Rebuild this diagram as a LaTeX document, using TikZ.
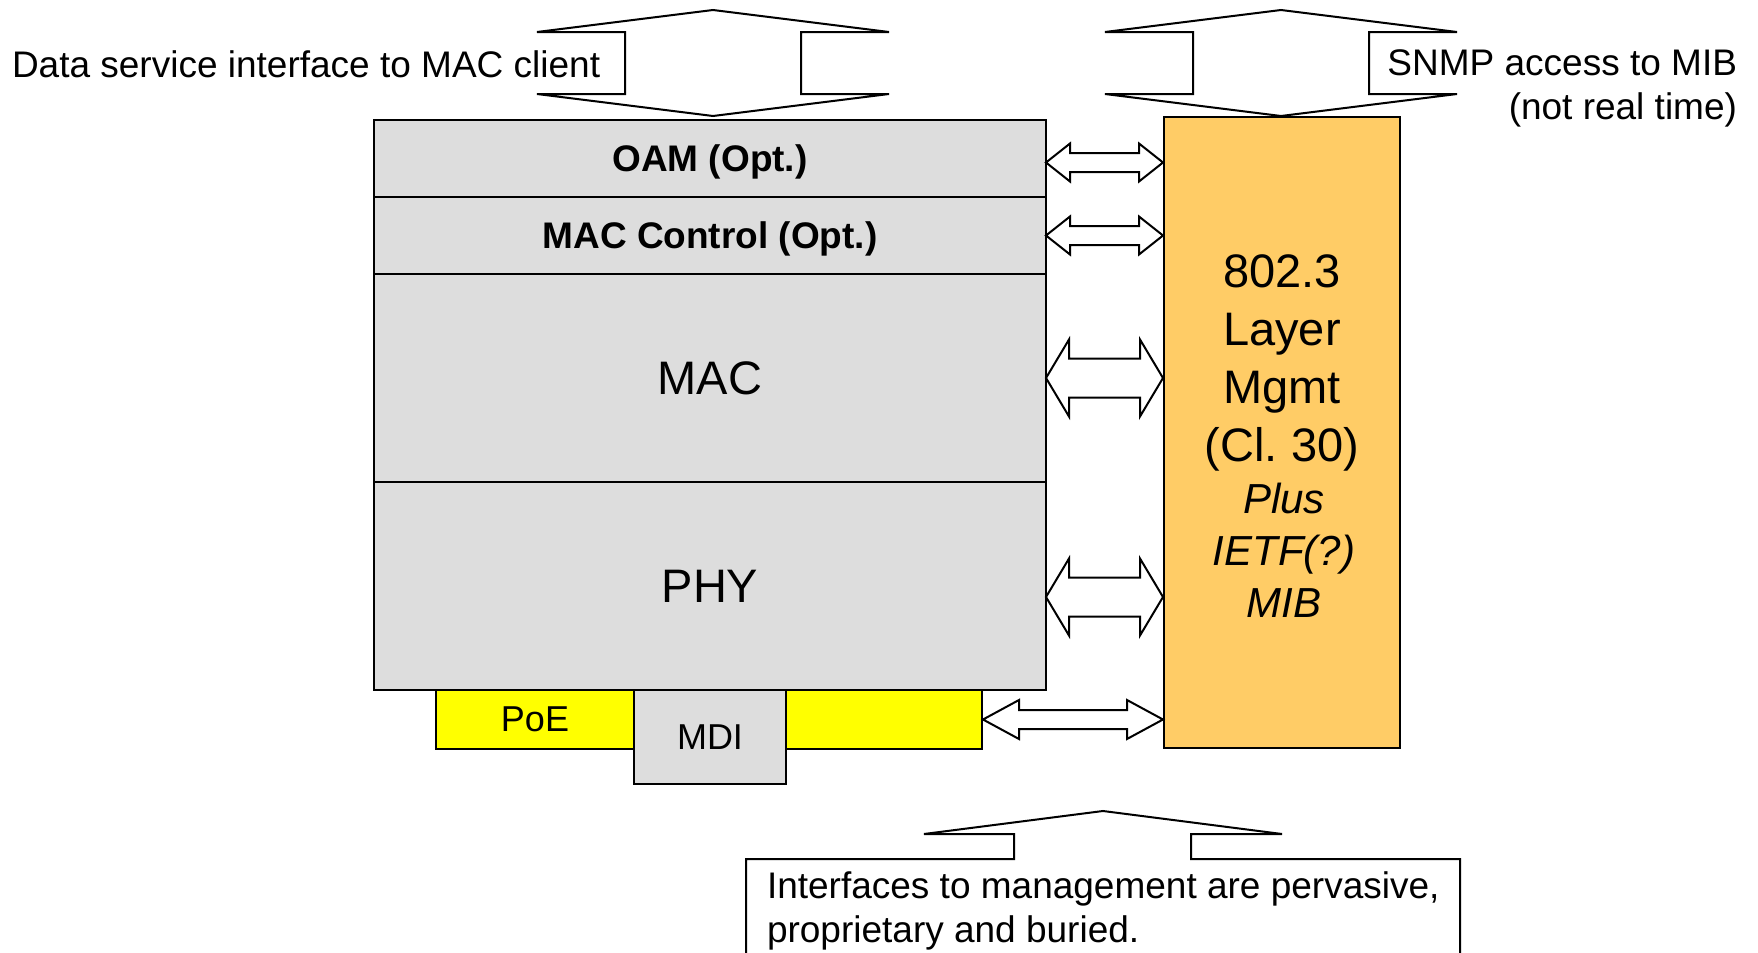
\documentclass[tikz,border=0pt]{standalone}
\usepackage{fontspec}
\setmainfont{Liberation Sans}
\usetikzlibrary{positioning, calc}
\definecolor{grigiostrato}{RGB}{221,221,221}
\definecolor{arancio}{RGB}{255,204,102}
\definecolor{giallopoe}{RGB}{255,255,0}

\newcommand{\testo}{\fontsize{18.5}{22}\selectfont}
\newcommand{\grande}{\fontsize{23.5}{29}\selectfont}
\newcommand{\medio}{\fontsize{21}{26}\selectfont}

% freccia doppia orizzontale: da #1 a #2, lunghezza punta, mezza punta, mezza asta
\newcommand{\frecciaH}[5]{%
  \draw[freccia] let \p1=(#1), \p2=(#2) in
    (\x1,\y1) -- (\x1+#3,\y1+#4) -- (\x1+#3,\y1+#5) -- (\x2-#3,\y1+#5)
    -- (\x2-#3,\y1+#4) -- (\x2,\y1) -- (\x2-#3,\y1-#4) -- (\x2-#3,\y1-#5)
    -- (\x1+#3,\y1-#5) -- (\x1+#3,\y1-#4) -- cycle;}
% freccia doppia verticale: da #1 (sopra) a #2 (sotto)
\newcommand{\frecciaV}[5]{%
  \draw[freccia] let \p1=(#1), \p2=(#2) in
    (\x1,\y1) -- (\x1+#4,\y1-#3) -- (\x1+#5,\y1-#3) -- (\x1+#5,\y2+#3)
    -- (\x1+#4,\y2+#3) -- (\x1,\y2) -- (\x1-#4,\y2+#3) -- (\x1-#5,\y2+#3)
    -- (\x1-#5,\y1-#3) -- (\x1-#4,\y1-#3) -- cycle;}

\begin{document}
\begin{tikzpicture}[x=0.5pt, y=-0.5pt, line width=1pt,
    strato/.style={draw, fill=grigiostrato, minimum width=336pt, inner sep=0pt, outer sep=0pt},
    poe/.style={draw, fill=giallopoe, minimum height=29.5pt, inner sep=0pt, font=\fontsize{18}{22}\selectfont},
    freccia/.style={draw, fill=white, line join=miter}]
    \useasboundingbox (0,0) rectangle (1758,953);

    % Strati 802.3
    \node[strato, minimum height=38.5pt, text depth=0pt, font=\testo\bfseries] (oam) at (710,158.5) {OAM (Opt.)};
    \node[strato, minimum height=38.5pt, text depth=0pt, font=\testo\bfseries, below=0pt of oam] (macctl) {MAC Control (Opt.)};
    \node[strato, minimum height=104pt, font=\grande, below=0pt of macctl] (mac) {MAC};
    \node[strato, minimum height=104pt, font=\grande, below=0pt of mac] (phy) {PHY};

    % PoE e MDI
    \node[poe, minimum width=99pt] (poe) at (535,719.5) {PoE};
    \node[poe, minimum width=98pt] (poedx) at (884,719.5) {};
    \node[draw, fill=grigiostrato, minimum width=76pt, minimum height=47pt, inner sep=0pt,
        font=\fontsize{18}{22}\selectfont] (mdi) at (710,737) {MDI};

    % Gestione
    \node[draw, fill=arancio, minimum width=118pt, minimum height=315.5pt, inner sep=0pt] (mgmt) at (1282,432.5) {};
    \node[font=\grande, align=center, anchor=north, inner sep=0pt] (mgmtcl) at (1282,254) {802.3\\Layer\\Mgmt\\(Cl.\ 30)};
    \node[font=\medio\itshape, align=center, anchor=north, inner sep=0pt] (mgmtmib) at (1284,482) {Plus\\IETF(?)\\MIB};

    % Etichette in alto
    \node[font=\testo, anchor=base west, inner sep=0pt] (dati) at (11,77) {Data service interface to MAC client};
    \node[font=\testo, align=right, anchor=north east, inner sep=0pt] (snmp) at (1738,49) {SNMP access to MIB\\(not real time)};

    % Frecce verticali
    \coordinate (clientsu) at (713,10);
    \coordinate (mibsu) at (1281,10);
    \frecciaV{clientsu}{clientsu |- mgmt.north}{11pt}{88pt}{44pt}
    \frecciaV{mibsu}{mibsu |- mgmt.north}{11pt}{88pt}{44pt}

    % Frecce verso la gestione
    \frecciaH{[yshift=-2pt]oam.east}{mgmt.west}{12pt}{9.5pt}{4.75pt}
    \frecciaH{macctl.east}{mgmt.west}{12pt}{9.5pt}{4.75pt}
    \frecciaH{mac.east}{mgmt.west}{11.5pt}{19.25pt}{9.75pt}
    \frecciaH{[yshift=-5.5pt]phy.east}{mgmt.west}{11.5pt}{19.25pt}{9.75pt}
    \frecciaH{poedx.east}{mgmt.west}{18pt}{9.75pt}{4.75pt}

    % Nota in basso
    \draw[freccia] (746,953) -- (746,859) -- (1014,859) -- (1014,834) -- (924,834) -- (1103,811)
        -- (1282,834) -- (1191,834) -- (1191,859) -- (1460,859) -- (1460,953);
    \node[font=\testo, align=left, anchor=north west, inner sep=0pt] (nota) at (766,871)
        {Interfaces to management are pervasive,\\proprietary and buried.};
\end{tikzpicture}
\end{document}
